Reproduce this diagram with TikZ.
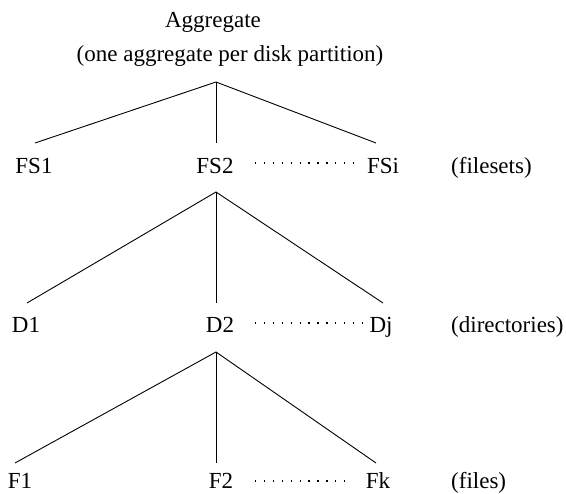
\documentclass[tikz,border=0pt]{standalone}
\usepackage{fontspec}
\setmainfont{Liberation Serif}
\begin{document}
\begin{tikzpicture}[x=1pt,y=-1pt,
  lbl/.style={anchor=base,inner sep=0pt,font=\fontsize{23}{27}\selectfont},
  side/.style={anchor=base west,inner sep=0pt,font=\fontsize{23}{27}\selectfont},
  branch/.style={draw=black,line width=0.9pt},
  dots/.style={draw=black,line width=1.3pt,dash pattern=on 1.3pt off 7.6pt}]
\useasboundingbox (0,0) rectangle (566,494);
% titles
\node[lbl] (agg) at (213,28) {Aggregate};
\node[lbl] (aggsub) at (230,62) {(one aggregate per disk partition)};
% filesets row
\node[lbl] (fs1) at (34,174) {FS1};
\node[lbl] (fs2) at (215,174) {FS2};
\node[lbl] (fsi) at (383,174) {FSi};
\node[side] (fsl) at (451,174) {(filesets)};
% directories row
\node[lbl] (d1) at (26,333) {D1};
\node[lbl] (d2) at (220,333) {D2};
\node[lbl] (dj) at (381,333) {Dj};
\node[side] (dl) at (451,333) {(directories)};
% files row
\node[lbl] (f1) at (20,489) {F1};
\node[lbl] (f2) at (221,489) {F2};
\node[lbl] (fk) at (378,489) {Fk};
\node[side] (fl) at (451,489) {(files)};
% branch coordinates
\coordinate (ta) at (216,82);
\coordinate (ta1) at (35,143);
\coordinate (ta2) at (216,143);
\coordinate (ta3) at (376,143);
\coordinate (tb) at (216,192);
\coordinate (tb1) at (27,303);
\coordinate (tb2) at (216,303);
\coordinate (tb3) at (383,303);
\coordinate (tc) at (216,352);
\coordinate (tc1) at (15,463);
\coordinate (tc2) at (216,463);
\coordinate (tc3) at (376,463);
\draw[branch] (ta1) -- (ta) -- (ta3);
\draw[branch] (ta) -- (ta2);
\draw[branch] (tb1) -- (tb) -- (tb3);
\draw[branch] (tb) -- (tb2);
\draw[branch] (tc1) -- (tc) -- (tc3);
\draw[branch] (tc) -- (tc2);
% dotted continuations
\coordinate (pa1) at (255,163);
\coordinate (pa2) at (354,163);
\coordinate (pb1) at (255,323);
\coordinate (pb2) at (362,323);
\coordinate (pc1) at (255,481);
\coordinate (pc2) at (351,481);
\draw[dots] (pa1) -- (pa2);
\draw[dots] (pb1) -- (pb2);
\draw[dots] (pc1) -- (pc2);
\end{tikzpicture}
\end{document}
